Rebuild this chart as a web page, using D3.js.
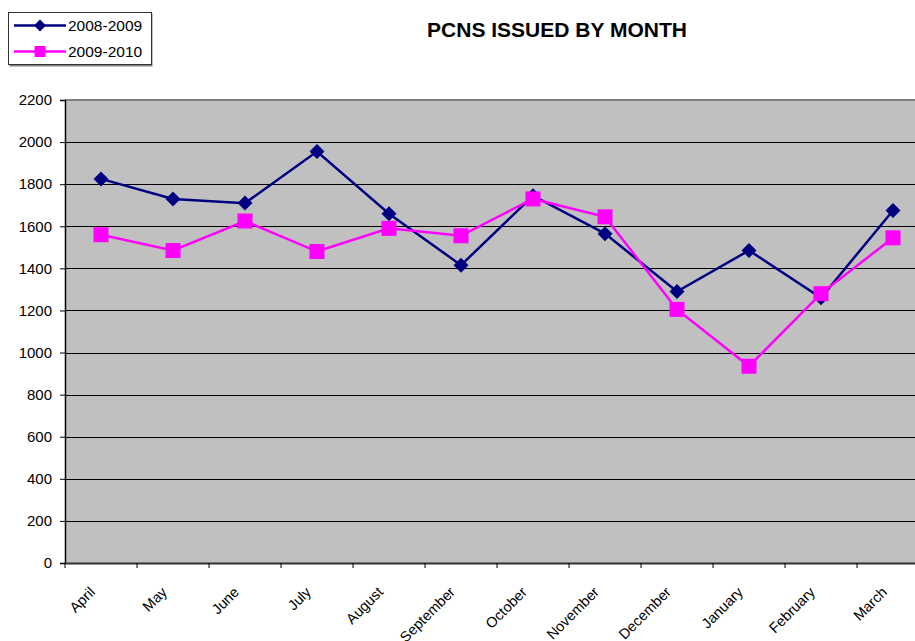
<!DOCTYPE html>
<html lang="en">
<head>
<meta charset="UTF-8">
<title>PCNS Issued by Month</title>
<style>
    body { margin: 0; background: #fff; font-family: "Liberation Sans", Arial, sans-serif; }
    svg text { font-family: "Liberation Sans", Arial, sans-serif; }
</style>
</head>
<body>
<svg id="chart" width="915" height="641"></svg>
<script src="https://d3js.org/d3.v7.min.js"></script>
<script>
    const months = ["April", "May", "June", "July", "August", "September",
                    "October", "November", "December", "January", "February", "March"];
    const series2008 = [1825, 1730, 1710, 1955, 1660, 1415, 1745, 1565, 1290, 1485, 1260, 1675];
    const series2009 = [1560, 1485, 1625, 1480, 1590, 1555, 1730, 1645, 1205, 935, 1280, 1545];
    const yTicks = [0, 200, 400, 600, 800, 1000, 1200, 1400, 1600, 1800, 2000, 2200];

    const svg = d3.select("#chart");
    const plotL = 65, plotR = 929, plotT = 100, plotB = 563;

    const x = d3.scaleBand().domain(months).range([plotL, plotR]);
    const y = d3.scaleLinear().domain([0, 2200]).range([plotB, plotT]);

    // plot background
    svg.append("rect")
        .attr("x", plotL).attr("y", plotT)
        .attr("width", plotR - plotL).attr("height", plotB - plotT)
        .attr("fill", "#c0c0c0");

    // gridlines
    svg.append("g")
        .selectAll("line")
        .data(yTicks.filter(d => d > 0 && d < 2200))
        .join("line")
        .attr("x1", plotL).attr("x2", plotR)
        .attr("y1", d => Math.round(y(d)) + 0.5).attr("y2", d => Math.round(y(d)) + 0.5)
        .attr("stroke", "#000").attr("stroke-width", 1);

    // top border
    svg.append("line")
        .attr("x1", plotL).attr("x2", plotR)
        .attr("y1", plotT).attr("y2", plotT)
        .attr("stroke", "#808080").attr("stroke-width", 2);

    // y axis
    const yAxis = svg.append("g")
        .attr("transform", `translate(${plotL},0)`)
        .call(d3.axisLeft(y).tickValues(yTicks).tickFormat(d3.format("d")).tickSize(5).tickPadding(8));
    yAxis.select(".domain").attr("stroke", "#000").attr("stroke-width", 1.5);
    yAxis.selectAll(".tick line").attr("stroke", "#000");
    yAxis.selectAll("text").attr("font-size", 15).attr("fill", "#000")
        .style("font-family", "'Liberation Sans', Arial, sans-serif");

    // x axis
    const xAxis = svg.append("g")
        .attr("transform", `translate(0,${plotB})`)
        .call(d3.axisBottom(x).tickSize(0).tickFormat(""));
    xAxis.select(".domain").attr("stroke", "#333").attr("stroke-width", 2);

    svg.append("g")
        .selectAll("line")
        .data(d3.range(months.length + 1))
        .join("line")
        .attr("x1", i => plotL + i * x.step()).attr("x2", i => plotL + i * x.step())
        .attr("y1", plotB).attr("y2", plotB + 5)
        .attr("stroke", "#000");

    svg.append("g")
        .selectAll("text")
        .data(months)
        .join("text")
        .attr("text-anchor", "end")
        .attr("font-size", 14.5)
        .attr("transform", d => `translate(${x(d) + x.bandwidth() / 2 - 5},${plotB + 30}) rotate(-45)`)
        .text(d => d);

    const cx = d => x(d) + x.bandwidth() / 2;
    const line = d3.line().x(d => cx(d.m)).y(d => y(d.v));

    function drawSeries(values, color, shape) {
        const pts = months.map((m, i) => ({ m, v: values[i] }));
        svg.append("path")
            .datum(pts)
            .attr("d", line)
            .attr("fill", "none")
            .attr("stroke", color)
            .attr("stroke-width", 2.5);
        svg.append("g")
            .selectAll("path")
            .data(pts)
            .join("path")
            .attr("transform", d => `translate(${cx(d.m)},${y(d.v)})`)
            .attr("d", shape)
            .attr("fill", color);
    }

    const diamond = "M0,-7.5L7.5,0L0,7.5L-7.5,0Z";
    const square = "M-7.5,-7.5H7.5V7.5H-7.5Z";
    drawSeries(series2008, "#000080", diamond);
    drawSeries(series2009, "#ff00ff", square);

    // title
    svg.append("text")
        .attr("x", 557).attr("y", 37)
        .attr("text-anchor", "middle")
        .attr("font-size", 21).attr("font-weight", "bold")
        .text("PCNS ISSUED BY MONTH");

    // legend
    const legend = svg.append("g");
    legend.append("rect")
        .attr("x", 9.5).attr("y", 13.5).attr("width", 143).attr("height", 53)
        .attr("fill", "#808080");
    legend.append("rect")
        .attr("x", 8.5).attr("y", 12.5).attr("width", 143).attr("height", 52)
        .attr("fill", "#fff").attr("stroke", "#333").attr("stroke-width", 1);
    const items = [
        { name: "2008-2009", color: "#000080", shape: "M0,-6L6,0L0,6L-6,0Z" },
        { name: "2009-2010", color: "#ff00ff", shape: "M-5.5,-5.5H5.5V5.5H-5.5Z" }
    ];
    items.forEach((d, i) => {
        const ly = 25.5 + i * 26;
        legend.append("line")
            .attr("x1", 14).attr("x2", 66).attr("y1", ly).attr("y2", ly)
            .attr("stroke", d.color).attr("stroke-width", 2.5);
        legend.append("path")
            .attr("transform", `translate(40,${ly})`)
            .attr("d", d.shape).attr("fill", d.color);
        legend.append("text")
            .attr("x", 68).attr("y", ly).attr("dy", "0.35em")
            .attr("font-size", 15.5)
            .text(d.name);
    });
</script>
</body>
</html>
